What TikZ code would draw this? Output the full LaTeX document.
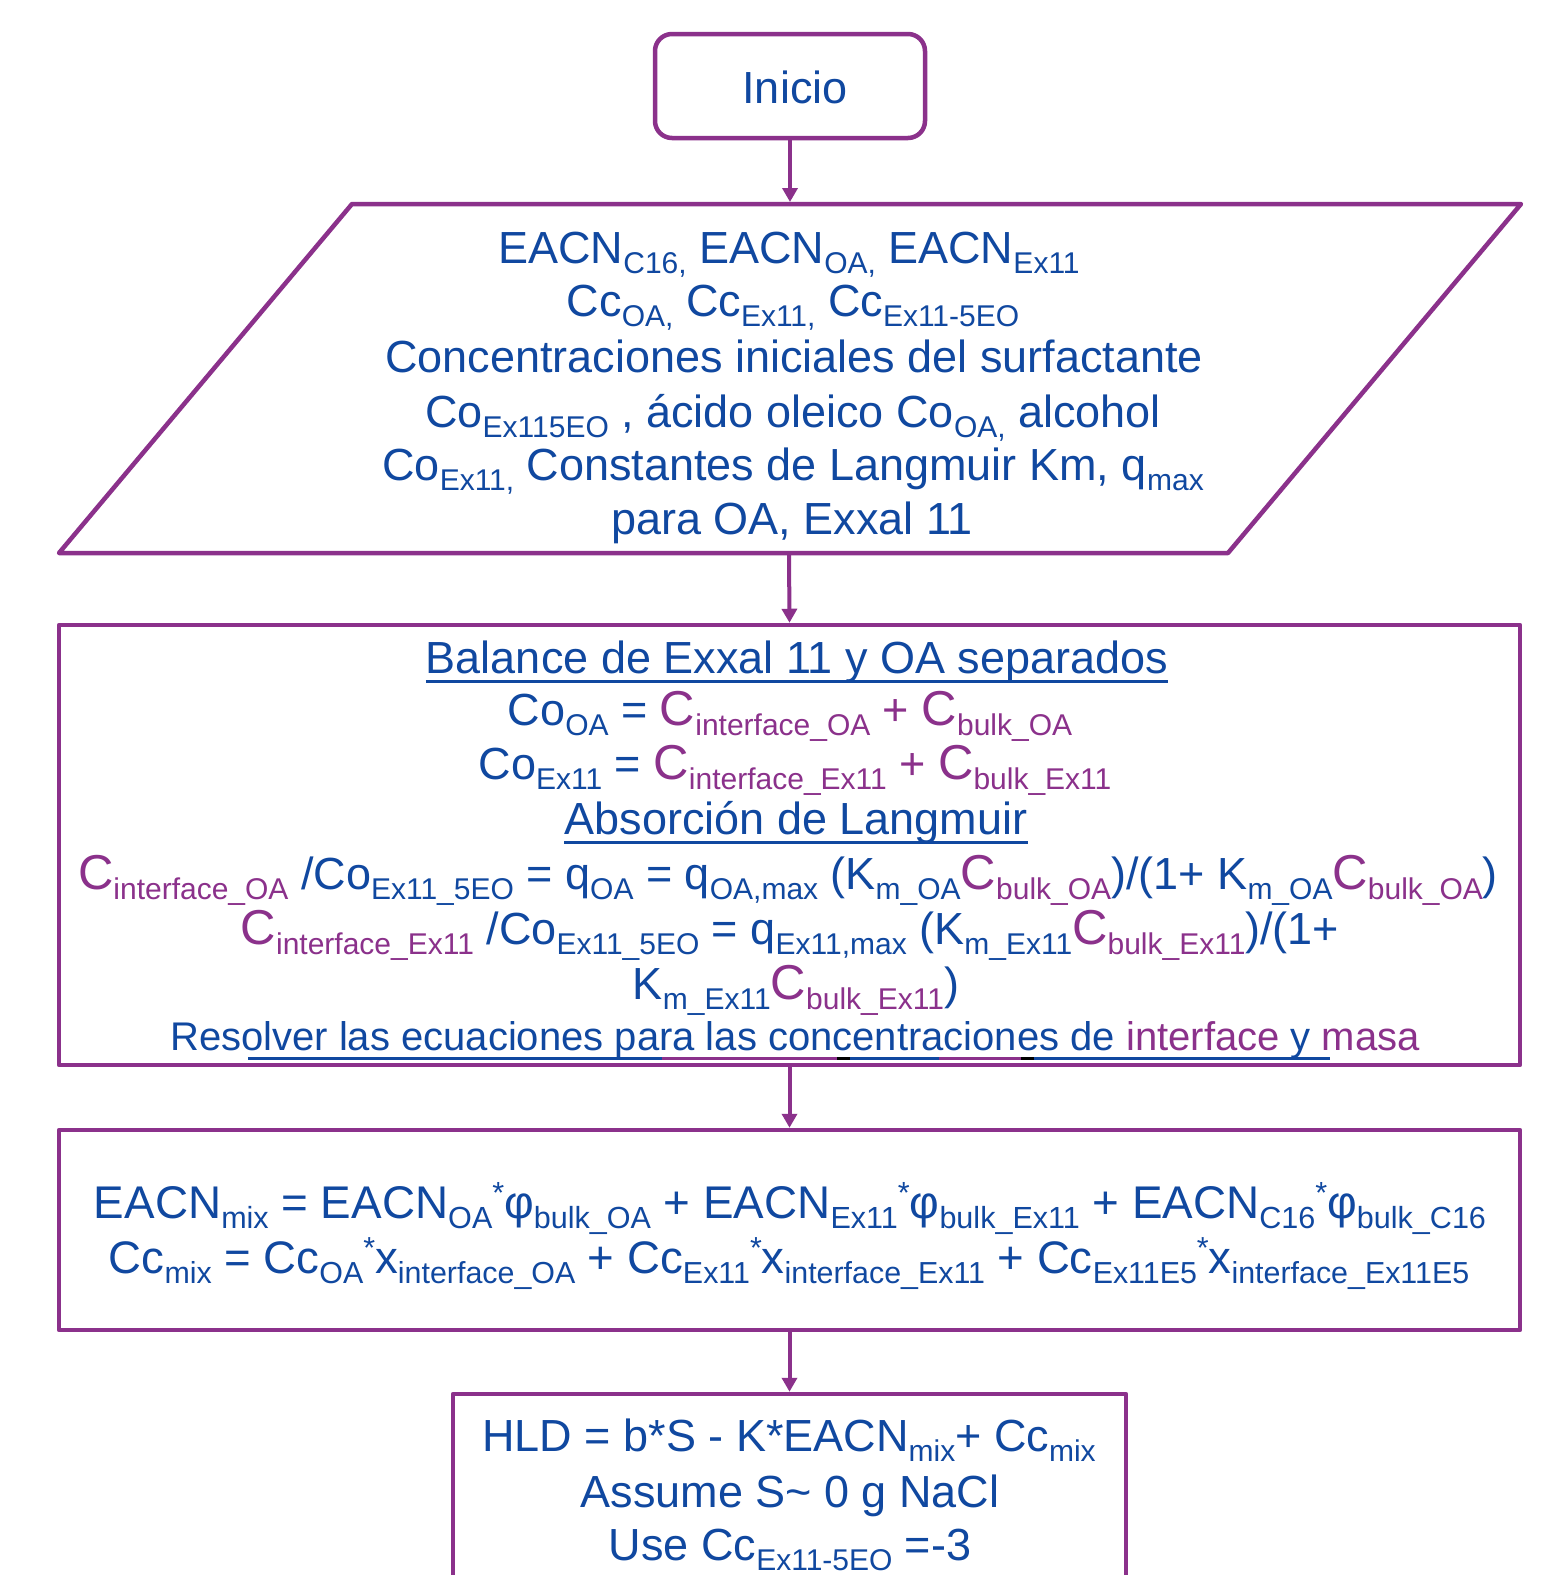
\documentclass[tikz,border=0pt]{standalone}
\usepackage{fontspec}
\setmainfont{Liberation Sans}
\usetikzlibrary{arrows.meta}
\definecolor{pblue}{RGB}{16,72,160}
\definecolor{ppur}{RGB}{139,49,139}
\newcommand{\dn}[1]{\raisebox{-10pt}{\fontsize{30}{30}\selectfont #1}}
\newcommand{\up}[1]{\raisebox{14pt}{\fontsize{30}{30}\selectfont #1}}
\newcommand{\pc}[1]{\textcolor{ppur}{#1}}
\newcommand{\bigC}{{\fontsize{49}{54}\selectfont C}}
\tikzset{
  shapeline/.style={draw=ppur, line width=4.5pt, line join=round},
  box/.style={shapeline, rectangle, inner sep=0pt, fill=white},
  arr/.style={draw=ppur, line width=4pt, -{Triangle[width=15pt,length=14pt]}},
  txt/.style={inner sep=0pt, anchor=base, text=pblue, font=\fontsize{45}{54}\selectfont},
  stxt/.style={txt, font=\fontsize{40}{48}\selectfont},
  uline/.style={line width=3pt, draw=pblue}
}
\begin{document}
\begin{tikzpicture}[x=1pt,y=-1pt]
\clip (0,0) rectangle (1554,1575);
\fill[white] (0,0) rectangle (1554,1575);

% shapes
\node[box, rounded corners=17pt, minimum width=270pt, minimum height=104pt] (start) at (790,86) {};
\coordinate (ptl) at (352,204);
\coordinate (ptr) at (1521,204);
\coordinate (pbr) at (1228,553);
\coordinate (pbl) at (59,553);
\coordinate (pin) at (790,204);
\coordinate (pout) at (789,553);
\draw[shapeline] (ptl) -- (ptr) -- (pbr) -- (pbl) -- cycle;
\node[box, minimum width=1461pt, minimum height=440pt] (bal) at (789.5,845) {};
\node[box, minimum width=1461pt, minimum height=200pt] (mix) at (789.5,1230) {};
\node[box, minimum width=673pt, minimum height=320pt] (hld) at (789.5,1554) {};

% connectors
\draw[arr, shorten >=2pt] (start.south) -- (pin);
\draw[arr] (pout) -- (bal.north);
\draw[arr] (bal.south) -- (mix.north);
\draw[arr] (mix.south) -- (hld.north);

% start text
\node[txt] (tstart) at (795,103) {Inicio};

% input parallelogram text
\node[txt] (in1) at (789,263) {EACN\dn{C16,} EACN\dn{OA,} EACN\dn{Ex11}};
\node[txt] (in2) at (793,316) {Cc\dn{OA,} Cc\dn{Ex11,} Cc\dn{Ex11-5EO}};
\node[txt] (in3) at (794,372) {Concentraciones iniciales del surfactante};
\node[txt] (in4) at (793,427) {Co\dn{Ex115EO} , ácido oleico Co\dn{OA,} alcohol};
\node[txt] (in5) at (793,480) {Co\dn{Ex11,} Constantes de Langmuir Km, q\dn{max}};
\node[txt] (in6) at (792,534) {para OA, Exxal 11};

% balance box text
\node[txt] (b1) at (797,673) {Balance de Exxal 11 y OA separados};
\draw[uline] ([yshift=-8pt]b1.base west) -- ([yshift=-8pt]b1.base east);
\node[txt] (b2) at (790,725) {Co\dn{OA} = \pc{\bigC\dn{interface\_OA} + \bigC\dn{bulk\_OA}}};
\node[txt] (b3) at (795,779) {Co\dn{Ex11} = \pc{\bigC\dn{interface\_Ex11} + \bigC\dn{bulk\_Ex11}}};
\node[txt] (b4) at (796,834) {Absorción de Langmuir};
\draw[uline] ([yshift=-8pt]b4.base west) -- ([yshift=-8pt]b4.base east);
\node[txt] (b5) at (788,889) {\pc{\bigC\dn{interface\_OA}} /Co\dn{Ex11\_5EO} = q\dn{OA} = q\dn{OA,max} (K\dn{m\_OA}\pc{\bigC\dn{bulk\_OA}})/(1+ K\dn{m\_OA}\pc{\bigC\dn{bulk\_OA}})};
\node[txt] (b6) at (790,944) {\pc{\bigC\dn{interface\_Ex11}} /Co\dn{Ex11\_5EO} = q\dn{Ex11,max} (K\dn{m\_Ex11}\pc{\bigC\dn{bulk\_Ex11}})/(1+};
\node[txt] (b7) at (796,999) {K\dn{m\_Ex11}\pc{\bigC\dn{bulk\_Ex11}})};
\node[stxt] (b8) at (795,1050) {Resolver las ecuaciones para las concentraciones de \pc{interface} y \pc{masa}};
\draw[line width=3pt, pblue] (248,1058) -- (662,1058);
\draw[line width=3pt, ppur] (662,1058) -- (837,1058);
\draw[line width=3pt, black] (837,1058) -- (850,1058);
\draw[line width=3pt, pblue] (850,1058) -- (939,1058);
\draw[line width=3pt, ppur] (939,1058) -- (1021,1058);
\draw[line width=3pt, black] (1021,1058) -- (1034,1058);
\draw[line width=3pt, pblue] (1034,1058) -- (1330,1058);

% mix box text
\node[txt] (m1) at (790,1218) {\scalebox{1.018}{EACN\dn{mix} = EACN\dn{OA}\up{*}φ\dn{bulk\_OA} + EACN\dn{Ex11}\up{*}φ\dn{bulk\_Ex11} + EACN\dn{C16}\up{*}φ\dn{bulk\_C16}}};
\node[txt] (m2) at (789,1273) {\scalebox{1.013}{Cc\dn{mix} = Cc\dn{OA}\up{*}x\dn{interface\_OA} + Cc\dn{Ex11}\up{*}x\dn{interface\_Ex11} + Cc\dn{Ex11E5}\up{*}x\dn{interface\_Ex11E5}}};

% HLD box text
\node[txt] (h1) at (789,1451) {HLD = b*S - K*EACN\dn{mix}+ Cc\dn{mix}};
\node[txt] (h2) at (790,1507) {Assume S\textasciitilde{} 0 g NaCl};
\node[txt] (h3) at (790,1560) {Use Cc\dn{Ex11-5EO} =-3};
\end{tikzpicture}
\end{document}
